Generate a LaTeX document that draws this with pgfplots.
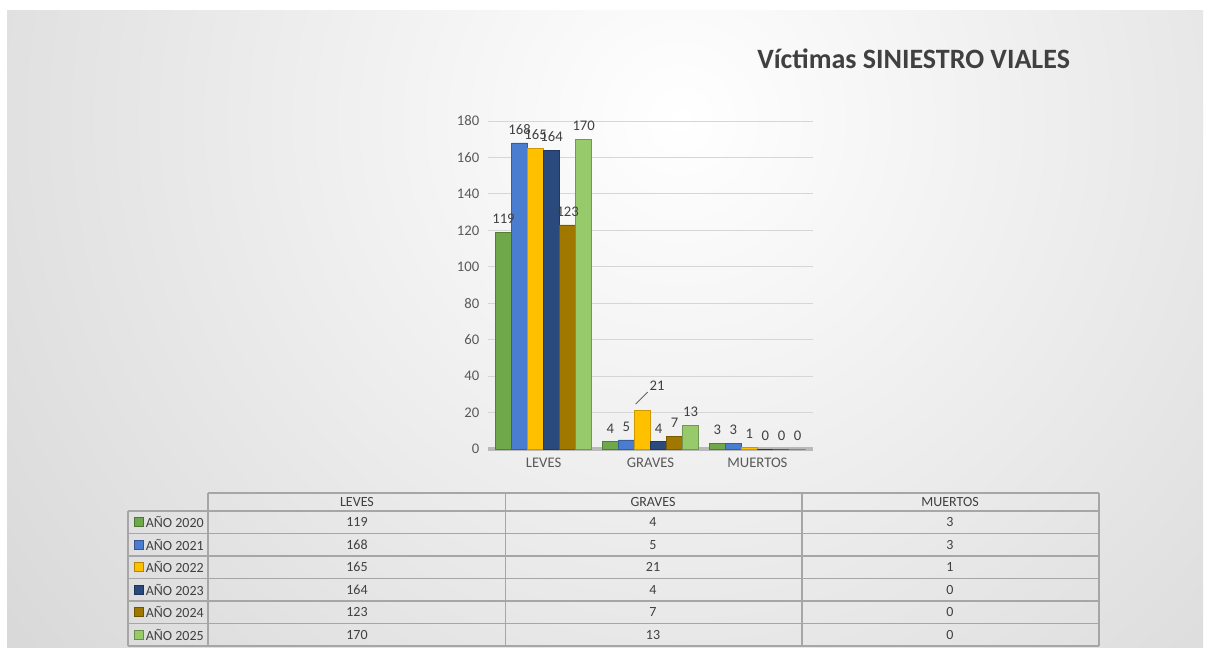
\documentclass[border=0pt]{standalone}
\usepackage{pgfplots}
\pgfplotsset{compat=1.18}
\usepackage{fontspec}
\setmainfont{Carlito}
\definecolor{cA}{HTML}{6EA84A}
\definecolor{cB}{HTML}{4A7CCF}
\definecolor{cC}{HTML}{FFC000}
\definecolor{cD}{HTML}{2A4A7E}
\definecolor{cE}{HTML}{A07800}
\definecolor{cF}{HTML}{96CA6A}
\definecolor{txt}{HTML}{404040}
\definecolor{tick}{HTML}{595959}
\definecolor{gridc}{HTML}{D6D6D6}
\definecolor{tab}{HTML}{A6A6A6}
\definecolor{bgout}{HTML}{C2C2C2}
\newcommand{\lf}{\fontsize{11}{13}\selectfont}
\newcommand{\tf}{\fontsize{10.5}{12}\selectfont}
\begin{document}
\begin{tikzpicture}[x=0.75pt,y=-0.75pt]
\fill[white] (0,0) rectangle (1205,647);
\begin{scope}
\clip (7,10) rectangle (1203,647);
\shade[inner color=white, outer color=bgout] (680,120) circle (1350);
\end{scope}
\node[anchor=base west, inner sep=0pt, font=\fontsize{21}{25}\selectfont\bfseries, text=txt] at (757,68) {Víctimas SINIESTRO VIALES};
\coordinate (ax) at (488,449);
\begin{scope}[x=1cm,y=1cm]
\begin{axis}[
  at={(ax)}, anchor=south west, scale only axis,
  width=243.75pt, height=246pt,
  xmin=-0.52, xmax=2.52, ymin=0, ymax=180,
  ytick={0,20,...,180}, xtick={0,1,2},
  xticklabels={LEVES,GRAVES,MUERTOS},
  ybar=0pt, bar width=0.15,
  ymajorgrids, grid style={gridc, line width=0.6pt},
  axis x line*=bottom, axis y line*=left,
  y axis line style={draw=none},
  x axis line style={draw=gray!55, line width=3.5pt, -},
  major tick length=0pt,
  tick label style={font=\lf, text=tick},
  yticklabel style={xshift=-3pt},
  xticklabel style={yshift=-3pt},
  /pgf/number format/assume math mode=true,
  nodes near coords,
  every node near coord/.append style={font=\lf, text=txt, yshift=3pt},
  clip=false,
]
\addplot[fill=cA, draw=cA!75!black] coordinates {(0,119) (1,4) (2,3)};
\addplot[fill=cB, draw=cB!75!black] coordinates {(0,168) (1,5) (2,3)};
\addplot[fill=cC, draw=cC!80!black,
  coordinate style/.condition={x==1}{xshift=11pt, yshift=9pt,
    append after command={([xshift=2pt,yshift=2pt]\tikzlastnode.south west) edge[draw=gray!80!black, line width=0.6pt] ++(-9pt,-9pt)}}]
  coordinates {(0,165) (1,21) (2,1)};
\addplot[fill=cD, draw=cD!75!black] coordinates {(0,164) (1,4) (2,0)};
\addplot[fill=cE, draw=cE!75!black] coordinates {(0,123) (1,7) (2,0)};
\addplot[fill=cF, draw=cF!75!black] coordinates {(0,170) (1,13) (2,0)};
\end{axis}
\end{scope}
% data table
\begin{scope}[tab, line width=0.8pt]
\draw (208,493) -- (1099,493);
\foreach \yy in {511,533.5,556,578.5,601,623.5,646} \draw (128,\yy) -- (1099,\yy);
\draw (128,511) -- (128,646);
\foreach \xx in {208,505.5,802,1099} \draw (\xx,493) -- (\xx,646);
\end{scope}
\begin{scope}[every node/.style={font=\tf, text=txt, inner sep=0pt}]
\node at (357,502) {LEVES};
\node at (653,502) {GRAVES};
\node at (950,502) {MUERTOS};
\foreach \i/\c/\yr/\a/\b/\d in {0/cA/2020/119/4/3, 1/cB/2021/168/5/3, 2/cC/2022/165/21/1, 3/cD/2023/164/4/0, 4/cE/2024/123/7/0, 5/cF/2025/170/13/0}{
  \pgfmathsetmacro{\yc}{511+22.5*(\i+0.5)}
  \fill[\c, draw=\c!70!black, line width=0.6pt] (134,\yc-4.5) rectangle (143,\yc+4.5);
  \node[anchor=west] at (145.5,\yc) {AÑO \yr};
  \node at (357,\yc) {\a};
  \node at (653,\yc) {\b};
  \node at (950,\yc) {\d};
}
\end{scope}
\pgfresetboundingbox
\path (0,0) rectangle (1205,647);
\end{tikzpicture}
\end{document}
